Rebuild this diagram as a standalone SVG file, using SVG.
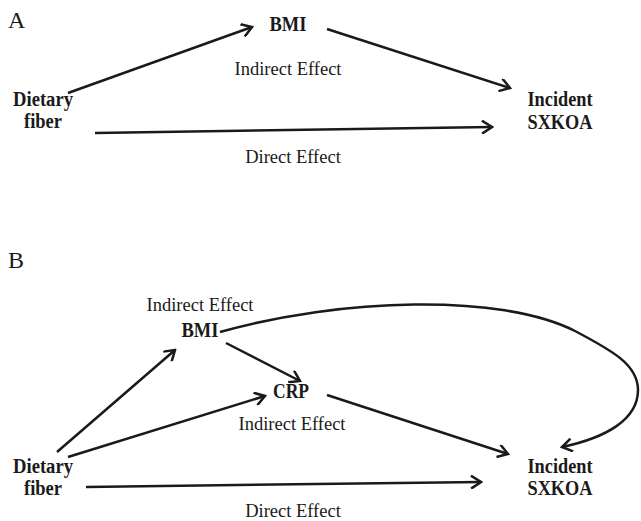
<svg xmlns="http://www.w3.org/2000/svg" width="641" height="521" viewBox="0 0 641 521">
<style>
.lbl{font-family:"Liberation Serif","Times New Roman",serif;font-size:20px;font-weight:bold;fill:#1a1a1a;text-anchor:middle}
.eff{font-family:"Liberation Serif","Times New Roman",serif;font-size:18.5px;fill:#1a1a1a;text-anchor:middle}
.pan{font-family:"Liberation Serif","Times New Roman",serif;font-size:24px;fill:#1a1a1a}
.edge{fill:none;stroke:#1a1a1a;stroke-width:2.5;marker-end:url(#arr)}
</style>
<defs>
<marker id="arr" viewBox="0 0 14 14" refX="12" refY="7" markerWidth="14" markerHeight="14" markerUnits="userSpaceOnUse" orient="auto">
<path d="M2,0.5 L12,7 L2,13.5" fill="none" stroke="#1a1a1a" stroke-width="2.5"/>
</marker>
</defs>
<rect width="641" height="521" fill="#ffffff"/>
<text class="pan" x="8" y="28">A</text>
<text class="pan" x="8" y="268">B</text>
<g id="connectors">
<path class="edge" d="M68,93 L252,27"/>
<path class="edge" d="M327,29 L510,88"/>
<path class="edge" d="M95,133 L492,127"/>
<path class="edge" d="M57,452 L175,350"/>
<path class="edge" d="M68,457 L265,396"/>
<path class="edge" d="M226,343 L300,381"/>
<path class="edge" d="M327,395 L508,454"/>
<path class="edge" d="M86,487 L481,482"/>
<path class="edge" d="M220,332 C340,298 500,293 575,331 C613,351 638,365 638,390 C638,420 605,438 562,447"/>
</g>
<g id="a-bmi"><text class="lbl" x="288" y="31" textLength="37" lengthAdjust="spacingAndGlyphs">BMI</text></g>
<g id="a-indirect"><text class="eff" x="288" y="75">Indirect Effect</text></g>
<g id="a-fiber"><text class="lbl" x="43" y="106" textLength="60" lengthAdjust="spacingAndGlyphs">Dietary</text><text class="lbl" x="43" y="128" textLength="38" lengthAdjust="spacingAndGlyphs">fiber</text></g>
<g id="a-sxkoa"><text class="lbl" x="560" y="106" textLength="65" lengthAdjust="spacingAndGlyphs">Incident</text><text class="lbl" x="560" y="129" textLength="65" lengthAdjust="spacingAndGlyphs">SXKOA</text></g>
<g id="a-direct"><text class="eff" x="293" y="163">Direct Effect</text></g>
<g id="b-indirect1"><text class="eff" x="200" y="311">Indirect Effect</text></g>
<g id="b-bmi"><text class="lbl" x="200" y="337" textLength="37" lengthAdjust="spacingAndGlyphs">BMI</text></g>
<g id="b-crp"><text class="lbl" x="291" y="398" textLength="36" lengthAdjust="spacingAndGlyphs">CRP</text></g>
<g id="b-indirect2"><text class="eff" x="292" y="430">Indirect Effect</text></g>
<g id="b-fiber"><text class="lbl" x="43" y="473" textLength="60" lengthAdjust="spacingAndGlyphs">Dietary</text><text class="lbl" x="43" y="495" textLength="38" lengthAdjust="spacingAndGlyphs">fiber</text></g>
<g id="b-sxkoa"><text class="lbl" x="560" y="473" textLength="65" lengthAdjust="spacingAndGlyphs">Incident</text><text class="lbl" x="560" y="495" textLength="65" lengthAdjust="spacingAndGlyphs">SXKOA</text></g>
<g id="b-direct"><text class="eff" x="293" y="517">Direct Effect</text></g>
</svg>
